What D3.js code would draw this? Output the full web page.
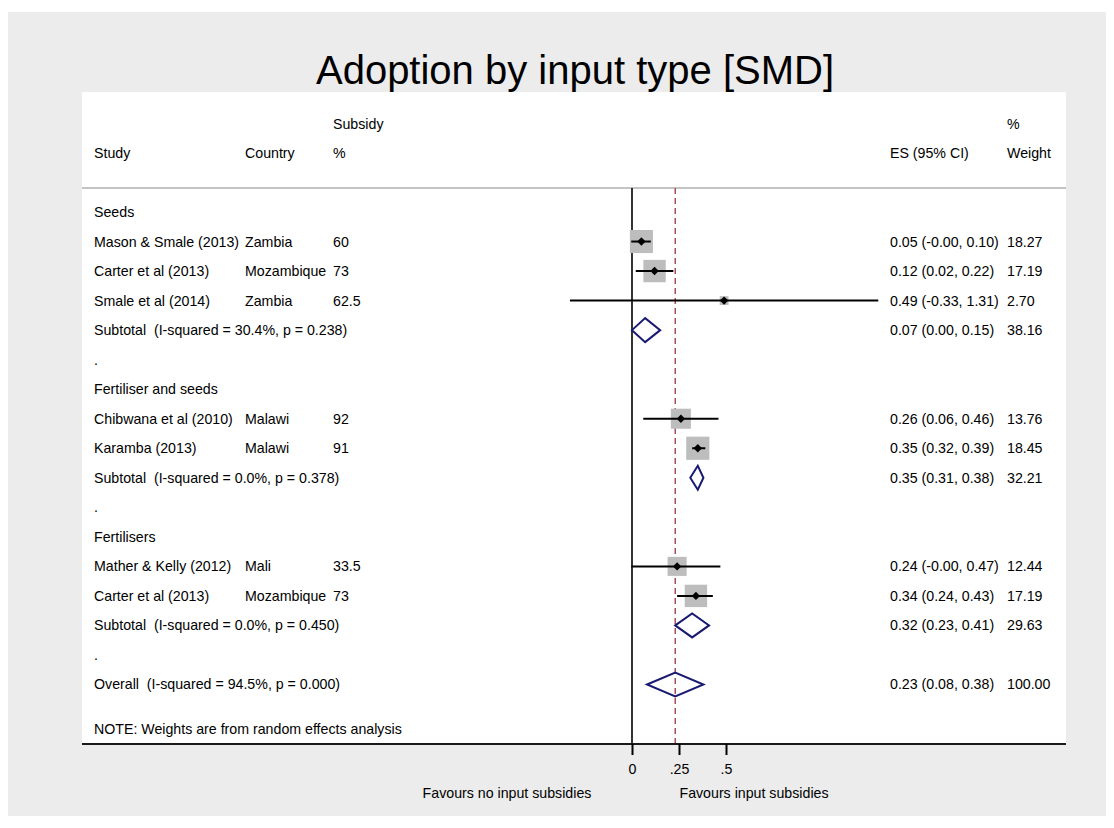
<!DOCTYPE html>
<html><head><meta charset="utf-8">
<script src="https://cdn.jsdelivr.net/npm/d3@7"></script>
<style>body{margin:0;background:#fff}text{font-family:"Liberation Sans",Arial,sans-serif;fill:#000}</style>
</head><body><svg id="c" width="1114" height="828"></svg>
<script>
const title = "Adoption by input type [SMD]";
const rowType = ["group","study","study","study","subtotal","blank","group","study","study","subtotal","blank","group","study","study","subtotal","blank","overall"];
const rowLabel = ["Seeds","Mason & Smale (2013)","Carter et al (2013)","Smale et al (2014)","Subtotal  (I-squared = 30.4%, p = 0.238)",".",
  "Fertiliser and seeds","Chibwana et al (2010)","Karamba (2013)","Subtotal  (I-squared = 0.0%, p = 0.378)",".",
  "Fertilisers","Mather & Kelly (2012)","Carter et al (2013)","Subtotal  (I-squared = 0.0%, p = 0.450)",".",
  "Overall  (I-squared = 94.5%, p = 0.000)"];
const rowCountry = ["","Zambia","Mozambique","Zambia","","","","Malawi","Malawi","","","","Mali","Mozambique","","",""];
const rowSubsidy = ["","60","73","62.5","","","","92","91","","","","33.5","73","","",""];
const rowES = [null,0.05,0.12,0.49,0.07,null,null,0.26,0.35,0.35,null,null,0.24,0.34,0.32,null,0.23];
const rowLo = [null,-0.004,0.02,-0.33,0.00,null,null,0.06,0.32,0.31,null,null,-0.004,0.24,0.23,null,0.08];
const rowHi = [null,0.10,0.22,1.31,0.15,null,null,0.46,0.39,0.38,null,null,0.47,0.43,0.41,null,0.38];
const rowWeight = [null,18.27,17.19,2.70,38.16,null,null,13.76,18.45,32.21,null,null,12.44,17.19,29.63,null,100.00];
const xTicks = [0, 0.25, 0.5];
const xTickLabels = ["0", ".25", ".5"];
const note = "NOTE: Weights are from random effects analysis";
const leftLabel = "Favours no input subsidies", rightLabel = "Favours input subsidies";

const svg = d3.select("#c");
svg.append("rect").attr("x",8).attr("y",12).attr("width",1098).attr("height",804).attr("fill","#ececec");
svg.append("rect").attr("x",82).attr("y",92).attr("width",984).attr("height",652).attr("fill","#fff");
svg.append("text").attr("x",575).attr("y",84).attr("text-anchor","middle").style("font-size","40px").text(title);

const x = d3.scaleLinear().domain([0,0.5]).range([632,726]);
const y = d3.scaleLinear().domain([0,16]).range([212,684.5]);
const overallES = rowES[rowES.length-1];

const fs = "14.2px";
const hdr = svg.append("g").style("font-size",fs);
hdr.append("text").attr("x",333).attr("y",124).attr("dy","0.35em").text("Subsidy");
hdr.append("text").attr("x",94).attr("y",153).attr("dy","0.35em").text("Study");
hdr.append("text").attr("x",245).attr("y",153).attr("dy","0.35em").text("Country");
hdr.append("text").attr("x",333).attr("y",153).attr("dy","0.35em").text("%");
hdr.append("text").attr("x",890).attr("y",153).attr("dy","0.35em").text("ES (95% CI)");
hdr.append("text").attr("x",1007).attr("y",124).attr("dy","0.35em").text("%");
hdr.append("text").attr("x",1007).attr("y",153).attr("dy","0.35em").text("Weight");
svg.append("line").attr("x1",82).attr("x2",1066).attr("y1",188).attr("y2",188).attr("stroke","#c4c4c4").attr("stroke-width",2);

// reference lines
svg.append("line").attr("x1",x(0)).attr("x2",x(0)).attr("y1",188).attr("y2",744).attr("stroke","#000").attr("stroke-width",1.6);
svg.append("line").attr("x1",x(overallES)).attr("x2",x(overallES)).attr("y1",188).attr("y2",744)
  .attr("stroke","#a5505a").attr("stroke-width",1.5).attr("stroke-dasharray","6,4");

const rows = rowType.map((t,i)=>({t,i,label:rowLabel[i],country:rowCountry[i],sub:rowSubsidy[i],es:rowES[i],lo:rowLo[i],hi:rowHi[i],w:rowWeight[i]}));
const g = svg.append("g").style("font-size",fs);
rows.forEach(r=>{
  const yy = y(r.i);
  g.append("text").attr("x",94).attr("y",yy).attr("dy","0.35em").style("white-space","pre").text(r.label);
  if (r.country) g.append("text").attr("x",245).attr("y",yy).attr("dy","0.35em").text(r.country);
  if (r.sub) g.append("text").attr("x",333).attr("y",yy).attr("dy","0.35em").text(r.sub);
  if (r.es!=null) {
    g.append("text").attr("x",890).attr("y",yy).attr("dy","0.35em")
      .text(`${r.es.toFixed(2)} (${r.lo.toFixed(2)}, ${r.hi.toFixed(2)})`);
    g.append("text").attr("x",1007).attr("y",yy).attr("dy","0.35em").text(r.w.toFixed(2));
  }
  if (r.t==="study") {
    const s = 5.4*Math.sqrt(r.w);
    svg.append("rect").attr("x",x(r.es)-s/2).attr("y",yy-s/2).attr("width",s).attr("height",s).attr("fill","#bdbdbd");
    svg.append("line").attr("x1",x(r.lo)).attr("x2",x(r.hi)).attr("y1",yy).attr("y2",yy).attr("stroke","#000").attr("stroke-width",2);
    const cx=x(r.es), d=4.2;
    svg.append("path").attr("d",`M${cx-d},${yy}L${cx},${yy-d}L${cx+d},${yy}L${cx},${yy+d}Z`).attr("fill","#000");
  } else if (r.t==="subtotal"||r.t==="overall") {
    const h=12;
    svg.append("path").attr("d",`M${x(r.lo)},${yy}L${x(r.es)},${yy-h}L${x(r.hi)},${yy}L${x(r.es)},${yy+h}Z`)
      .attr("fill","none").attr("stroke","#1a1a72").attr("stroke-width",2).attr("stroke-linejoin","miter");
  }
});
g.append("text").attr("x",94).attr("y",729).attr("dy","0.35em").text(note);

// axis
svg.append("line").attr("x1",82).attr("x2",1066).attr("y1",744).attr("y2",744).attr("stroke","#1a1a1a").attr("stroke-width",2.2);
const ax = svg.append("g").attr("transform","translate(0,744)")
  .call(d3.axisBottom(x).tickValues(xTicks).tickFormat((d,i)=>xTickLabels[i]).tickSize(11).tickPadding(9));
ax.select(".domain").remove();
ax.selectAll(".tick line").attr("stroke","#000").attr("stroke-width",2);
ax.selectAll(".tick text").style("font-size",fs).style("font-family","'Liberation Sans',Arial,sans-serif").attr("fill","#000");
svg.append("text").attr("x",507).attr("y",793).attr("dy","0.35em").attr("text-anchor","middle").style("font-size",fs).text(leftLabel);
svg.append("text").attr("x",754).attr("y",793).attr("dy","0.35em").attr("text-anchor","middle").style("font-size",fs).text(rightLabel);
</script></body></html>
